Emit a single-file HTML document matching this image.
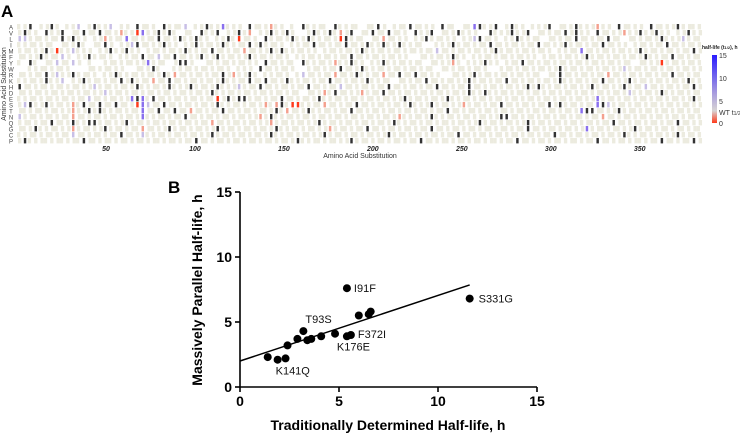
<!DOCTYPE html>
<html><head><meta charset="utf-8">
<style>
body{margin:0;background:#fff;width:740px;height:436px;overflow:hidden;font-family:"Liberation Sans",sans-serif}
svg{display:block}
</style></head>
<body>
<svg id="fig" width="740" height="436" viewBox="0 0 740 436" xmlns="http://www.w3.org/2000/svg" font-family="Liberation Sans, sans-serif">
<text x="1" y="17" font-size="17" font-weight="bold">A</text>
<text x="168" y="193" font-size="17" font-weight="bold">B</text>
<g id="heat"></g>
<g id="heatAxis"></g>
<g id="rowLabels"></g>
<text x="6" y="84" font-size="7" transform="rotate(-90 6 84)" text-anchor="middle" fill="#333">Amino Acid Substitution</text>
<text x="360" y="158" font-size="7" text-anchor="middle" fill="#333">Amino Acid Substitution</text>
<defs><linearGradient id="cb" x1="0" y1="0" x2="0" y2="1">
<stop offset="0" stop-color="#2a1cff"/><stop offset="0.55" stop-color="#a69adf"/><stop offset="0.82" stop-color="#d8d4d4"/><stop offset="1" stop-color="#ff3a1a"/></linearGradient></defs>
<g>
<text x="702" y="49" font-size="5" font-weight="bold" fill="#222">half-life (t<tspan font-size="4">1/2</tspan>), h</text>
<rect x="712" y="55" width="5" height="68" fill="url(#cb)"/>
<text x="719" y="58" font-size="7" fill="#333">15</text>
<text x="719" y="81" font-size="7" fill="#333">10</text>
<text x="719" y="104" font-size="7" fill="#333">5</text>
<text x="719" y="115" font-size="7" fill="#333">WT t<tspan font-size="5">1/2</tspan></text>
<text x="719" y="126" font-size="7" fill="#333">0</text>
</g>
<g id="scatter"></g>
</svg>
<script>
// ---- Heatmap data (each char = 3 residues): . none, b measured~WT, k dark, r red, s pale red, p purple, q pale purple
const heatRows = ["A","V","L","I","M","F","Y","W","R","K","H","D","E","S","T","N","Q","G","C","P"];
const heatCells = [
"bbk.bbkb.bbq.bkbbq.bb.kbbb.kbbbq.bbkbbpbbb.kbbbsbb.b.kbbbb.kbbbb.bbkb.bbbkbbbb.kbb.bbpkbbk.bkbb.bbbk.bbbkbbbsbb.kbbbb.kbbbbkbb",
"bkbb.kbbk.bbkbbkbbbsbbrpbbkbkb.bb.kbbk.bbkbs.bbkbbkb..bkbbkbsbk.bbkbbkbbb.kbbk.bbbkbbb..kbbbkbbk.bbbbbkbkbb.kbbbbsbbkbbkbb.bbk",
"qqbbbbbbkbkbb.bbsbbbpbbbbbkbbbkbbkbb.bbkbrbbb.kbbbbkbbkbbbbbrkbbb.bbsbbbb.bbkbbbbb.bbqkbbb.bbkbbbb.bbbbbkbbbbbkbb.bbbbbbkbbbqbb",
"bbbbbbb.bbbkb.bbkb.bbqkbbbbkbb.bbkbbbbkbbbbkbkbbbb.bbbbkbbbbbkbbbkbbkbbkbbbb..bbbkbbbbbbkbbbbbbbbkbbbbkbbbbbbkbbbb.bbbbbbkbbbbb",
"bbbbbkbrbbqbbb.bbkbbkbb.bbbbbbbkbbbbkbbbbbsbbbbkbkbbbbbb.bbbbbbbkbbbbbbbbbbbbbqbbbbbbbbbbkbbbbbbbbbb.bbbbpbbbbbbbbbbkbbbbbbbbbkb",
"bbbbkbbbqb.bbkbbbb.bbbbkbbqbbkbbbbkbbkbbbbbkbbbbbbb.bbbbbbbbbbkbbbbbbbbbb..bbbbbbkbb.bbbbbbbbbbbb.bbbbbbbbkbbbbbbbbbbkbbbbkbbbb",
"b.kb.bbqbbqb.b..bbbbbbbbpbbb.bkkb..bbbbbbbbbb.kbbbbb.kbbbbbsbbkbb.bbkbbbbbbb.bbbbsb.bbbkbb.bbbkbbbbbbbbbbbbbbbbbbbb.bbbbrbbbbbb",
"..bbbbbbbb...bbbbbbb..bbbkb..bbbbbbbbbbb.bbb.kbbbbbb..bbbbbbkbbbkbbbbbbbbbbbbb.bbbbbbbbb..bbbbbbbbbbbkbbbbbbbbbbbqbbbbbbbbbbbbb",
"bbbbbkbqbbkbbbb.bbkbbbbbbbbkbsbbbbbbbbkbsbbkb.bbbbb.bqbbbbbsbbbkbbbbsbbkbbkbbbb..bbbbkbbbbbbbbbbbb.bbkbbbbbbbbsbbbbbbbbbbbkbbbb",
"bbbbbkbbq.bbkbbbbbbkbkbbbsbbkbbbbbbbbbkbbbbkbbkbbbkbbbbbbbkbbbbbbkbbbb.bbbbbkbbbbbbbkbbbbbbkbbbbbbbbbkbbbbbbbkbbbbkbbbbbbbbbbkb",
"kbbbbbbbbbbbbbqbbbbbbbkbbbbbkbbbkbbbbkbbbqbbbkbbbbbbbbkbbbbbqbbbbbbbbkbbbbbbbbkbbbbbkbbbbbbbbbbkbkbbbbbbbbbkbbbbbkbbbqbbbbbbbbk",
"bbbbbbbbbbbbbbbbqbbbbbbbbbbbbbbbbbbbkbbbbbbbbbbbbbbbb.bbbsbkbbbbsbbbkbbbbbbbbbbbbbbbkbbkbbbbbbbbbbbbbbbbbbbbbbbbbbqbbbbbkbbbbbbb",
"bbbbbbbbbbbbbqbbbbbbbpkpbkbbbbbbbbbbbrbkbkkbbbbbbkbbbbbbkbbbbbbbbbbbbbbbkbbbbbbbkbbbbbbbbbbbbbbbbbbbbbbbbbbbpbbbbbbbbbbbbbbbbbk",
"bqkbbkbbbbsbkbbkbbkbbbrpqbbkbbbbbbbbbkbbbbbbbbsbskbrrbbbbsbbbbbkbbbbbbbbbkbbbkbbbbbsbbbbbbkbbbbbbbbkbkbbbbbbpkqbbbbbbbbbbbbbbbb",
"bbbbbbbbbbsbbkbkbbbbbbbpbbkbbkbbsbbbbbkbbbbbbbbbkbsbbbkbbbbbbbkbbbbbbbbbbbbbbbbbkbbbbbbbbbbbbbbbbbbbbbbbbpkkbbbbkbbbbbbbbbbbbbb",
"qbbbbbbbbbsbbbbbbbbbbbbpbbbbbbbkbbbbbbbbbbbbbsbkbbbbbbbbbbbbbbbbbbbbbbbsbbbbbkbbbbbbbbbbbbkkbbbbbbbbbbbbbbbbbsbbbbbbbbbbbbbbbbbb",
"bbbbbbkbbbkbbkkbbbbbkbbbbbbbbbbbbbbbsbbbbbbbbbbsbbbbbbbbkbbbbbbbbbbbbbkbbbbbbbbbbbbbbbkbbbbbbbbkbbbbbbbbbbbbbbbkbbbbbbbbbbbkbbbb",
"bbbkbbbbbbsbbbbbkbbbbbbsbbbbkbbbbbbbbkbbbbbbbbbbkbbbbbbbbbsbbbbbbkbbbbbbbbbbbkbbbbbbbbbbbbbbbbbkbbbbbbbbbbpbbbbbbbbkbbbbbbbbbbbb",
"bbbbbbbbbbqbbbbbbbbkbbbqbbbbbbbbbbbbkbbbbbbbbbbkbbbbbbbbbkbbbbbbbbbbbkbbbbbbbbbbbbkbbbbbbbbbbbbbbbbbkbbbbbbbbbbbbkbbbbbbbbbkbbbb",
"bkbbbbbbbbbbkbbbbbbbbbbbbbbbbbbbbkbbbbbbbbbbbbbbbbbbkbbbbbbbbbkbbbbbbbbbbbbkbbbbbbbbbbbbbbbbbkbbbbbbbbbbbbbbkbbbbbbbbbbbkbbbbbk"
];
const heatTicks = [50,100,150,200,250,300,350];
const nResidues = 385;

// ---- Scatter data
const tradHL = [1.4,1.9,2.3,2.4,2.9,3.2,3.4,3.6,4.1,4.8,5.4,5.4,5.6,6.0,6.5,6.6,11.6];
const mpHL   = [2.3,2.1,2.2,3.2,3.7,4.3,3.6,3.7,3.9,4.1,7.6,3.9,4.0,5.5,5.6,5.8,6.8];
const pointLabels = [{i:1,t:"K141Q",dx:-2,dy:15},{i:5,t:"T93S",dx:2,dy:-8},{i:10,t:"I91F",dx:7,dy:4},{i:12,t:"F372I",dx:7,dy:3},{i:11,t:"K176E",dx:-10,dy:14},{i:16,t:"S331G",dx:9,dy:4}];
const fitLine = {x0:0, y0:2.0, x1:11.6, y1:7.85};
const xTicks = [0,5,10,15];
const yTicks = [0,5,10,15];

const NS="http://www.w3.org/2000/svg";
function mk(tag, attrs, parent){const e=document.createElementNS(NS,tag);for(const k in attrs)e.setAttribute(k,attrs[k]);parent.appendChild(e);return e;}

// Heatmap
const hx0=17, hx1=702, hy0=24, rowH=6;
const resX = r => hx0 + (r/nResidues)*(hx1-hx0);
const colors={b:"#ecebdf",k:"#333333",r:"#ff3a1a",s:"#f4a08e",p:"#8a70ee",q:"#c8bfe6"};
const heat=document.getElementById('heat');
heatCells.forEach((row,ri)=>{
  const n=128, cw=(hx1-hx0)/n;
  for(let c=0;c<n;c++){
    const ch=row[c]||'b';
    if(ch==='.')continue;
    let w=cw, x=hx0+c*cw;
    if(ch!=='b'){w=Math.min(cw,2.4); x+= (cw-w)/2;} else {w=cw*0.62; x+=((c+ri)%3)*cw*0.19;}
    const rc=mk('rect',{x:x.toFixed(2),y:hy0+ri*rowH,width:(w+0.05).toFixed(2),height:rowH-0.6,fill:colors[ch]||colors.b},heat);
    
    
  }
});
const rl=document.getElementById('rowLabels');
heatRows.forEach((a,i)=>{
  const t=mk('text',{x:11,y:hy0+i*rowH+5.5,'font-size':6,fill:'#444','text-anchor':'middle'},rl);
  t.textContent=a;
  
  
});
const ha=document.getElementById('heatAxis');
heatTicks.forEach(v=>{
  const t=mk('text',{x:resX(v),y:151,'font-size':7,'font-weight':'bold','font-style':'italic','text-anchor':'middle',fill:'#222'},ha);
  t.textContent=v;
  
  
});

// Scatter
const sc=document.getElementById('scatter');
const X=v=>240+v*(537-240)/15, Y=v=>387-v*(387-192)/15;
mk('line',{x1:X(0),y1:Y(0),x2:X(15),y2:Y(0),stroke:'#000','stroke-width':1.6},sc);
mk('line',{x1:X(0),y1:Y(0),x2:X(0),y2:Y(15),stroke:'#000','stroke-width':1.6},sc);
xTicks.forEach(v=>{
  mk('line',{x1:X(v),y1:Y(0),x2:X(v),y2:Y(0)+5,stroke:'#000','stroke-width':1.6},sc);
  const t=mk('text',{x:X(v),y:Y(0)+19,'font-size':14,'font-weight':'bold','text-anchor':'middle'},sc);
  t.textContent=v;
  
  
});
yTicks.forEach(v=>{
  mk('line',{x1:X(0)-5,y1:Y(v),x2:X(0),y2:Y(v),stroke:'#000','stroke-width':1.6},sc);
  const t=mk('text',{x:X(0)-8,y:Y(v)+5,'font-size':14,'font-weight':'bold','text-anchor':'end'},sc);
  t.textContent=v;
  
  
});
const xt=mk('text',{x:388,y:430,'font-size':14,'font-weight':'bold','text-anchor':'middle'},sc);
xt.textContent='Traditionally Determined Half-life, h';


const yt=mk('text',{x:202,y:290,'font-size':14,'font-weight':'bold','text-anchor':'middle',transform:'rotate(-90 202 290)'},sc);
yt.textContent='Massively Parallel Half-life, h';


const fl=mk('line',{x1:X(fitLine.x0),y1:Y(fitLine.y0),x2:X(fitLine.x1),y2:Y(fitLine.y1),stroke:'#000','stroke-width':1.5},sc);


tradHL.forEach((v,i)=>{
  const c=mk('circle',{cx:X(v),cy:Y(mpHL[i]),r:4,fill:'#000'},sc);
  
  
});
pointLabels.forEach(p=>{
  const t=mk('text',{x:X(tradHL[p.i])+p.dx,y:Y(mpHL[p.i])+p.dy,'font-size':11,fill:'#111'},sc);
  t.textContent=p.t;
  
  
});
</script>
</body></html>
